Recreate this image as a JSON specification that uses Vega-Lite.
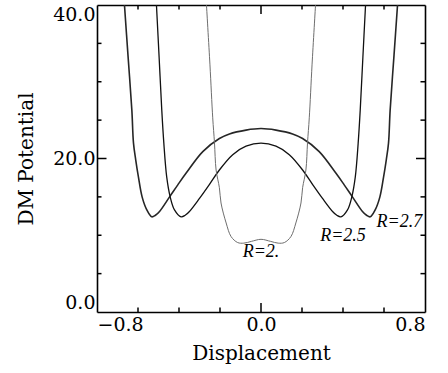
{
  "$schema": "https://vega.github.io/schema/vega-lite/v6.json",
  "width": 328,
  "height": 307,
  "autosize": {"type": "none"},
  "padding": {"left": 97, "top": 5, "right": 23, "bottom": 61},
  "background": "white",
  "config": {
    "view": {"stroke": null},
    "axis": {
      "labelFont": "DejaVu Serif",
      "labelFontSize": 19,
      "labelColor": "black",
      "titleFont": "DejaVu Serif",
      "titleFontSize": 20,
      "titleFontWeight": "normal",
      "titleColor": "black",
      "domainColor": "black",
      "domainWidth": 1.6,
      "ticks": false,
      "grid": false
    },
    "tick": {"color": "black", "thickness": 1.5, "opacity": 1}
  },
  "datasets": {
    "xTicks": [
      {"t": -0.6}, {"t": -0.4}, {"t": -0.2}, {"t": 0}, {"t": 0.2}, {"t": 0.4}, {"t": 0.6}
    ],
    "yTicks": [
      {"t": 5}, {"t": 10}, {"t": 15}, {"t": 20}, {"t": 25}, {"t": 30}, {"t": 35}
    ]
  },
  "layer": [
    {
      "data": {
        "values": [
          {"R": "2.7", "x": -0.666, "V": 40},
          {"R": "2.7", "x": -0.649, "V": 33.5},
          {"R": "2.7", "x": -0.63, "V": 26.3},
          {"R": "2.7", "x": -0.622, "V": 22.0},
          {"R": "2.7", "x": -0.611, "V": 19.8},
          {"R": "2.7", "x": -0.598, "V": 17.6},
          {"R": "2.7", "x": -0.58, "V": 15.0},
          {"R": "2.7", "x": -0.557, "V": 13.3},
          {"R": "2.7", "x": -0.533, "V": 12.4},
          {"R": "2.7", "x": -0.515, "V": 12.6},
          {"R": "2.7", "x": -0.495, "V": 13.1},
          {"R": "2.7", "x": -0.446, "V": 15.0},
          {"R": "2.7", "x": -0.405, "V": 16.6},
          {"R": "2.7", "x": -0.365, "V": 18.1},
          {"R": "2.7", "x": -0.284, "V": 20.9},
          {"R": "2.7", "x": -0.203, "V": 22.6},
          {"R": "2.7", "x": -0.154, "V": 23.2},
          {"R": "2.7", "x": -0.073, "V": 23.7},
          {"R": "2.7", "x": 0, "V": 23.9},
          {"R": "2.7", "x": 0.073, "V": 23.7},
          {"R": "2.7", "x": 0.154, "V": 23.2},
          {"R": "2.7", "x": 0.203, "V": 22.6},
          {"R": "2.7", "x": 0.284, "V": 20.9},
          {"R": "2.7", "x": 0.365, "V": 18.1},
          {"R": "2.7", "x": 0.405, "V": 16.6},
          {"R": "2.7", "x": 0.446, "V": 15.0},
          {"R": "2.7", "x": 0.495, "V": 13.1},
          {"R": "2.7", "x": 0.515, "V": 12.6},
          {"R": "2.7", "x": 0.533, "V": 12.4},
          {"R": "2.7", "x": 0.557, "V": 13.3},
          {"R": "2.7", "x": 0.58, "V": 15.0},
          {"R": "2.7", "x": 0.598, "V": 17.6},
          {"R": "2.7", "x": 0.611, "V": 19.8},
          {"R": "2.7", "x": 0.622, "V": 22.0},
          {"R": "2.7", "x": 0.63, "V": 26.3},
          {"R": "2.7", "x": 0.649, "V": 33.5},
          {"R": "2.7", "x": 0.666, "V": 40},

          {"R": "2.5", "x": -0.51, "V": 40},
          {"R": "2.5", "x": -0.497, "V": 33.2},
          {"R": "2.5", "x": -0.484, "V": 26.3},
          {"R": "2.5", "x": -0.474, "V": 22.0},
          {"R": "2.5", "x": -0.46, "V": 17.6},
          {"R": "2.5", "x": -0.443, "V": 15.0},
          {"R": "2.5", "x": -0.422, "V": 13.3},
          {"R": "2.5", "x": -0.39, "V": 12.4},
          {"R": "2.5", "x": -0.37, "V": 12.6},
          {"R": "2.5", "x": -0.349, "V": 13.1},
          {"R": "2.5", "x": -0.3, "V": 14.8},
          {"R": "2.5", "x": -0.252, "V": 16.6},
          {"R": "2.5", "x": -0.203, "V": 18.5},
          {"R": "2.5", "x": -0.138, "V": 20.5},
          {"R": "2.5", "x": -0.073, "V": 21.6},
          {"R": "2.5", "x": 0, "V": 22.0},
          {"R": "2.5", "x": 0.073, "V": 21.6},
          {"R": "2.5", "x": 0.138, "V": 20.5},
          {"R": "2.5", "x": 0.203, "V": 18.5},
          {"R": "2.5", "x": 0.252, "V": 16.6},
          {"R": "2.5", "x": 0.3, "V": 14.8},
          {"R": "2.5", "x": 0.349, "V": 13.1},
          {"R": "2.5", "x": 0.37, "V": 12.6},
          {"R": "2.5", "x": 0.39, "V": 12.4},
          {"R": "2.5", "x": 0.422, "V": 13.3},
          {"R": "2.5", "x": 0.443, "V": 15.0},
          {"R": "2.5", "x": 0.46, "V": 17.6},
          {"R": "2.5", "x": 0.474, "V": 22.0},
          {"R": "2.5", "x": 0.484, "V": 26.3},
          {"R": "2.5", "x": 0.497, "V": 33.2},
          {"R": "2.5", "x": 0.51, "V": 40},

          {"R": "2", "x": -0.266, "V": 40},
          {"R": "2", "x": -0.249, "V": 32.2},
          {"R": "2", "x": -0.2355, "V": 25.3},
          {"R": "2", "x": -0.227, "V": 22.1},
          {"R": "2", "x": -0.219, "V": 18.5},
          {"R": "2", "x": -0.203, "V": 16.2},
          {"R": "2", "x": -0.195, "V": 14.2},
          {"R": "2", "x": -0.17, "V": 11.6},
          {"R": "2", "x": -0.146, "V": 9.83},
          {"R": "2", "x": -0.114, "V": 9.05},
          {"R": "2", "x": -0.084, "V": 8.97},
          {"R": "2", "x": -0.047, "V": 9.2},
          {"R": "2", "x": 0, "V": 9.47},
          {"R": "2", "x": 0.047, "V": 9.2},
          {"R": "2", "x": 0.084, "V": 8.97},
          {"R": "2", "x": 0.114, "V": 9.05},
          {"R": "2", "x": 0.146, "V": 9.83},
          {"R": "2", "x": 0.17, "V": 11.6},
          {"R": "2", "x": 0.195, "V": 14.2},
          {"R": "2", "x": 0.203, "V": 16.2},
          {"R": "2", "x": 0.219, "V": 18.5},
          {"R": "2", "x": 0.227, "V": 22.1},
          {"R": "2", "x": 0.2355, "V": 25.3},
          {"R": "2", "x": 0.249, "V": 32.2},
          {"R": "2", "x": 0.266, "V": 40}
        ]
      },
      "mark": {"type": "line", "interpolate": "catmull-rom", "clip": true},
      "encoding": {
        "x": {
          "field": "x",
          "type": "quantitative",
          "scale": {"domain": [-0.8, 0.8], "nice": false, "zero": false},
          "axis": {
            "orient": "bottom",
            "values": [-0.8, 0, 0.8],
            "format": ".1f",
            "labelPadding": 3,
            "title": "Displacement",
            "titlePadding": 9
          }
        },
        "y": {
          "field": "V",
          "type": "quantitative",
          "scale": {"domain": [0, 40], "nice": false},
          "axis": {
            "orient": "left",
            "values": [0, 20, 40],
            "format": ".1f",
            "labelFlush": true,
            "labelPadding": 2,
            "title": "DM Potential",
            "titlePadding": 16
          }
        },
        "color": {
          "field": "R",
          "type": "nominal",
          "scale": {"domain": ["2", "2.5", "2.7"], "range": ["#6e6e6e", "#111111", "#262626"]},
          "legend": null
        },
        "strokeWidth": {
          "field": "R",
          "type": "ordinal",
          "scale": {"domain": ["2", "2.5", "2.7"], "range": [1.0, 1.6, 1.4]},
          "legend": null
        }
      }
    },
    {
      "data": {
        "values": [
          {"lx": 0.0, "ly": 7.2, "label": "R=2."},
          {"lx": 0.4, "ly": 9.3, "label": "R=2.5"},
          {"lx": 0.675, "ly": 11.1, "label": "R=2.7"}
        ]
      },
      "mark": {
        "type": "text",
        "font": "Liberation Serif",
        "fontStyle": "italic",
        "fontSize": 18,
        "align": "center",
        "baseline": "alphabetic",
        "color": "black"
      },
      "encoding": {
        "x": {
          "field": "lx",
          "type": "quantitative",
          "scale": {"domain": [-0.8, 0.8], "nice": false, "zero": false},
          "axis": {"orient": "top", "labels": false, "title": null}
        },
        "y": {
          "field": "ly",
          "type": "quantitative",
          "scale": {"domain": [0, 40], "nice": false},
          "axis": {"orient": "right", "labels": false, "title": null}
        },
        "text": {"field": "label"}
      }
    },
    {
      "data": {"name": "xTicks"},
      "mark": {"type": "tick", "orient": "vertical", "clip": true},
      "encoding": {
        "x": {"field": "t", "type": "quantitative", "axis": null},
        "y": {"datum": 0, "type": "quantitative", "axis": null},
        "size": {"condition": {"test": "datum.t == 0", "value": 18}, "value": 9}
      }
    },
    {
      "data": {"name": "xTicks"},
      "mark": {"type": "tick", "orient": "vertical", "clip": true},
      "encoding": {
        "x": {"field": "t", "type": "quantitative", "axis": null},
        "y": {"datum": 40, "type": "quantitative", "axis": null},
        "size": {"condition": {"test": "datum.t == 0", "value": 18}, "value": 9}
      }
    },
    {
      "data": {"name": "yTicks"},
      "mark": {"type": "tick", "orient": "horizontal", "clip": true},
      "encoding": {
        "y": {"field": "t", "type": "quantitative", "axis": null},
        "x": {"datum": -0.8, "type": "quantitative", "axis": null},
        "size": {"condition": {"test": "datum.t == 20", "value": 19}, "value": 9}
      }
    },
    {
      "data": {"name": "yTicks"},
      "mark": {"type": "tick", "orient": "horizontal", "clip": true},
      "encoding": {
        "y": {"field": "t", "type": "quantitative", "axis": null},
        "x": {"datum": 0.8, "type": "quantitative", "axis": null},
        "size": {"condition": {"test": "datum.t == 20", "value": 18}, "value": 9}
      }
    }
  ],
  "resolve": {"axis": {"x": "independent", "y": "independent"}}
}
